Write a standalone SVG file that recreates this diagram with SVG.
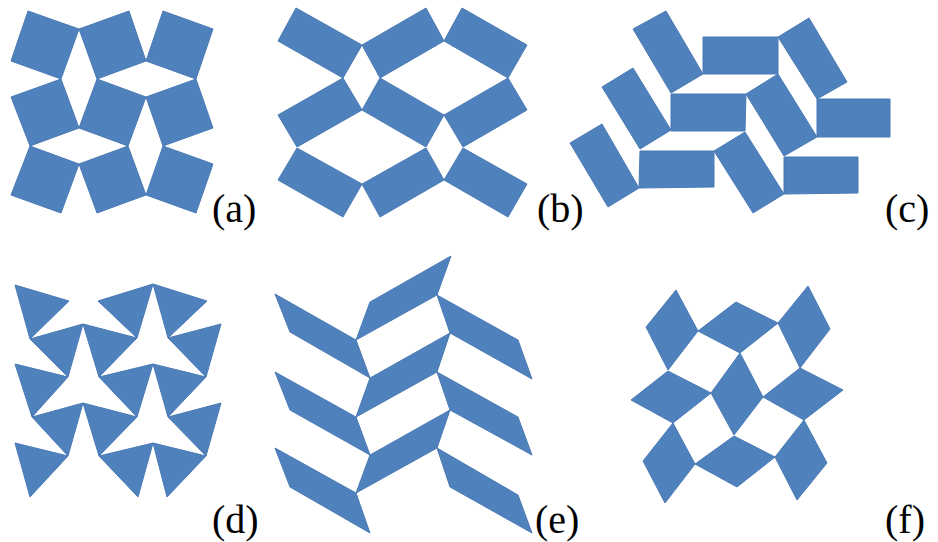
<svg xmlns="http://www.w3.org/2000/svg" width="938" height="542" viewBox="0 0 938 542">
<style>
.s{fill:#4F81BD;stroke:#4A7AB5;stroke-width:1;stroke-linejoin:round}
.l{font-family:"Liberation Serif","Times New Roman",serif;font-size:40px;fill:#000}
</style>
<rect width="938" height="542" fill="#fff"/>
<g id="panel-a">
<polygon class="s" points="28,11 79,29 61,79 11,61"/>
<polygon class="s" points="79,29 129,11 146,61 97,79"/>
<polygon class="s" points="163,11 213,29 196,79 146,61"/>
<polygon class="s" points="11,97 61,79 79,128 30,146"/>
<polygon class="s" points="97,79 146,97 128,146 79,128"/>
<polygon class="s" points="146,97 196,79 213,128 163,146"/>
<polygon class="s" points="30,146 79,164 61,213 11,195"/>
<polygon class="s" points="79,164 128,146 146,195 97,213"/>
<polygon class="s" points="163,146 213,164 196,213 146,195"/>
<text class="l" x="212" y="222">(a)</text>
</g>
<g id="panel-b">
<polygon class="s" points="296,8 362,45 343,78 278,41"/>
<polygon class="s" points="362,45 426,8 444,41 380,78"/>
<polygon class="s" points="444,41 462,8 527,45 508,78"/>
<polygon class="s" points="278,115 343,78 362,110 297,147"/>
<polygon class="s" points="380,78 444,115 426,147 362,110"/>
<polygon class="s" points="444,115 508,78 527,110 463,147"/>
<polygon class="s" points="297,148 362,184 343,217 278,180"/>
<polygon class="s" points="362,184 426,148 444,180 380,217"/>
<polygon class="s" points="463,148 527,184 508,217 444,180"/>
<text class="l" x="537" y="222">(b)</text>
</g>
<g id="panel-c">
<polygon class="s" points="633,29 666,11 703,74 671,93"/>
<polygon class="s" points="703,37 778,37 778,74 703,74"/>
<polygon class="s" points="778,37 809,18 847,82 817,99"/>
<polygon class="s" points="602,87 633,68 671,130 640,149"/>
<polygon class="s" points="671,94 746,94 745,131 671,131"/>
<polygon class="s" points="746,94 778,74 817,137 784,156"/>
<polygon class="s" points="817,99 890,99 890,137 817,137"/>
<polygon class="s" points="570,143 602,124 639,188 608,207"/>
<polygon class="s" points="640,151 714,151 714,187 639,188"/>
<polygon class="s" points="714,151 745,132 784,194 753,213"/>
<polygon class="s" points="784,157 858,157 858,193 784,194"/>
<text class="l" x="885" y="222">(c)</text>
</g>
<g id="panel-d">
<polygon class="s" points="15,285 69,301 30,339"/>
<polygon class="s" points="98,301 153,284 137,338"/>
<polygon class="s" points="153,284 207,301 168,338"/>
<polygon class="s" points="30,339 83,324 68,377"/>
<polygon class="s" points="83,324 137,338 99,377"/>
<polygon class="s" points="168,338 221,324 206,377"/>
<polygon class="s" points="15,364 68,377 32,417"/>
<polygon class="s" points="99,377 153,364 137,417"/>
<polygon class="s" points="153,364 206,377 168,417"/>
<polygon class="s" points="32,417 83,403 68,456"/>
<polygon class="s" points="83,403 137,417 99,456"/>
<polygon class="s" points="168,417 221,403 206,456"/>
<polygon class="s" points="15,443 68,456 30,497"/>
<polygon class="s" points="99,456 153,443 138,497"/>
<polygon class="s" points="153,443 206,456 167,497"/>
<text class="l" x="212" y="533">(d)</text>
</g>
<g id="panel-e">
<polygon class="s" points="275,294 356,340 370,378 290,332"/>
<polygon class="s" points="356,340 370,302 451,256 437,295"/>
<polygon class="s" points="437,295 518,340 532,379 450,333"/>
<polygon class="s" points="275,372 356,417 370,455 290,410"/>
<polygon class="s" points="356,417 370,378 450,333 437,372"/>
<polygon class="s" points="437,372 518,417 532,455 450,410"/>
<polygon class="s" points="275,448 356,493 370,533 290,487"/>
<polygon class="s" points="356,493 370,455 450,410 437,448"/>
<polygon class="s" points="437,448 518,495 532,533 450,487"/>
<text class="l" x="535" y="533">(e)</text>
</g>
<g id="panel-f">
<polygon class="s" points="676,290 698,331 668,370 646,327"/>
<polygon class="s" points="698,331 736,302 778,323 740,353"/>
<polygon class="s" points="778,323 808,286 830,329 800,368"/>
<polygon class="s" points="668,371 711,393 673,423 631,400"/>
<polygon class="s" points="740,353 763,397 734,435 711,393"/>
<polygon class="s" points="800,368 843,390 804,420 763,397"/>
<polygon class="s" points="673,423 695,464 665,503 643,461"/>
<polygon class="s" points="695,464 734,436 775,457 737,487"/>
<polygon class="s" points="804,420 827,463 797,500 775,457"/>
<text class="l" x="885" y="533">(f)</text>
</g>
</svg>
